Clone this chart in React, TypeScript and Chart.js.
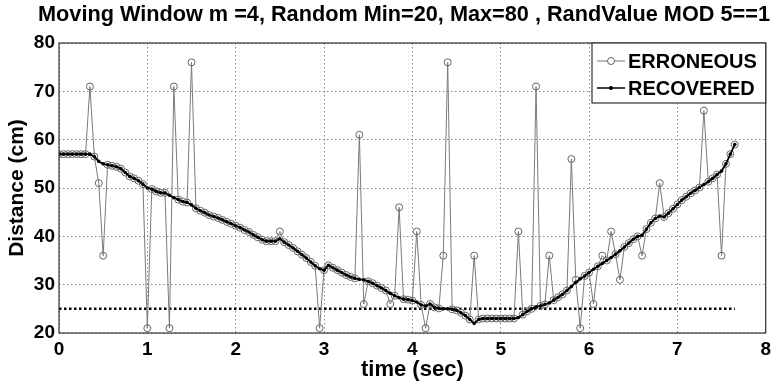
import React, { useEffect, useRef } from "react";
import { Chart, registerables } from "chart.js";

Chart.register(...registerables);

const TITLE = "Moving Window m =4, Random Min=20, Max=80 , RandValue MOD 5==1";
const X_LABEL = "time (sec)";
const Y_LABEL = "Distance (cm)";
const SERIES_NAMES = ["ERRONEOUS", "RECOVERED"];

const X_MIN = 0;
const X_MAX = 8;
const X_STEP = 1;
const Y_MIN = 20;
const Y_MAX = 80;
const Y_STEP = 10;

// sampling period of the sensor (sec)
const SAMPLE_PERIOD = 0.05;

// recovered distance (cm), one value per sample
const RECOVERED_CM = [
  57, 57, 57, 57, 57, 57, 57, 57, 56.5, 55.5,
  55, 54.8, 54.6, 54.4, 54, 53.2, 52.4, 52, 51.5, 50.8,
  50, 49.8, 49.3, 49, 49, 48.5, 48, 47.6, 47.2, 47,
  46.5, 45.8, 45.3, 44.9, 44.4, 44.1, 43.8, 43.4, 43, 42.6,
  42.2, 41.8, 41.3, 40.9, 40.3, 39.8, 39.3, 39, 39, 39,
  39.5, 38.8, 38.2, 37.6, 36.9, 36.2, 35.5, 34.7, 33.9, 33.3,
  33, 34, 33.5, 33, 32.5, 32, 31.6, 31.3, 31.1, 31,
  30.7, 30.3, 29.8, 29.3, 28.8, 28.2, 27.7, 27.3, 27, 26.9,
  26.7, 26.4, 25.8, 25.6, 26, 25.3, 25.1, 25, 25, 24.9,
  24.7, 24.2, 23.6, 22.8, 22, 22.8, 23, 23, 23, 23,
  23, 23, 23, 23, 23.2, 23.8, 24.5, 25, 25.4, 25.6,
  25.9, 26.2, 26.8, 27.4, 28, 28.8, 29.6, 30.5, 31.2, 31.8,
  32.5, 33.2, 33.8, 34.4, 35, 35.6, 36.3, 37, 37.8, 38.6,
  39.4, 40, 40.2, 41.5, 42.8, 43.7, 44.2, 44, 44.8, 45.7,
  46.6, 47.5, 48.2, 48.9, 49.5, 50.1, 50.7, 51.3, 52, 52.8,
  53.5, 55, 57, 59,
];

// erroneous readings injected into the raw signal (time sec, value cm)
const OUTLIER_TIMES = [
  0.35, 0.45, 0.5, 1.0, 1.25, 1.3, 1.5, 2.5, 2.95, 3.4, 3.45, 3.75, 3.85,
  4.05, 4.15, 4.35, 4.4, 4.7, 5.2, 5.4, 5.55, 5.8, 5.85, 5.9, 6.05, 6.15,
  6.25, 6.35, 6.6, 6.8, 7.3, 7.5,
];
const OUTLIER_CM = [
  71, 51, 36, 21, 21, 71, 76, 41, 21, 61, 26, 26, 46,
  41, 21, 36, 76, 36, 41, 71, 36, 56, 31, 21, 26, 36,
  41, 31, 36, 51, 66, 36,
];

const THRESHOLD_CM = 25;
const THRESHOLD_SPAN = [0, 7.65];

const FONT = '"Liberation Sans", Arial, Helvetica, sans-serif';

export default function App() {
  const canvasRef = useRef<HTMLCanvasElement | null>(null);

  useEffect(() => {
    const canvas = canvasRef.current;
    if (!canvas) return;

    const recoveredPts = RECOVERED_CM.map((v, i) => ({ x: i * SAMPLE_PERIOD, y: v }));
    const erroneousVals = RECOVERED_CM.slice();
    OUTLIER_TIMES.forEach((t, k) => {
      const idx = Math.round(t / SAMPLE_PERIOD);
      if (idx >= 0 && idx < erroneousVals.length) erroneousVals[idx] = OUTLIER_CM[k];
    });
    const erroneousPts = erroneousVals.map((v, i) => ({ x: i * SAMPLE_PERIOD, y: v }));
    const thresholdPts = THRESHOLD_SPAN.map((t) => ({ x: t, y: THRESHOLD_CM }));

    const framePlugin = {
      id: "frameAndDecor",
      afterDraw(chart: any) {
        const { ctx, chartArea } = chart;
        const { left, top, right, bottom } = chartArea;
        ctx.save();
        // axes box
        ctx.setLineDash([]);
        ctx.strokeStyle = "#333";
        ctx.lineWidth = 1.2;
        ctx.strokeRect(left, top, right - left, bottom - top);

        // title
        ctx.fillStyle = "#000";
        ctx.font = `bold 21.7px ${FONT}`;
        ctx.textAlign = "left";
        ctx.textBaseline = "alphabetic";
        ctx.fillText(TITLE, 38, 21);

        // legend
        const lx0 = 592;
        const ly0 = top;
        const lw = right - lx0;
        const lh = 60;
        ctx.fillStyle = "#fff";
        ctx.fillRect(lx0, ly0, lw, lh);
        ctx.strokeStyle = "#333";
        ctx.lineWidth = 1.2;
        ctx.strokeRect(lx0, ly0, lw, lh);

        const rows = [ly0 + 18, ly0 + 45];
        // erroneous entry
        ctx.strokeStyle = "#777";
        ctx.lineWidth = 1;
        ctx.beginPath();
        ctx.moveTo(597, rows[0]);
        ctx.lineTo(625, rows[0]);
        ctx.stroke();
        ctx.strokeStyle = "#666";
        ctx.beginPath();
        ctx.arc(611, rows[0], 3.5, 0, Math.PI * 2);
        ctx.fillStyle = "#fff";
        ctx.fill();
        ctx.stroke();
        // recovered entry
        ctx.strokeStyle = "#000";
        ctx.lineWidth = 1.5;
        ctx.beginPath();
        ctx.moveTo(597, rows[1]);
        ctx.lineTo(625, rows[1]);
        ctx.stroke();
        ctx.fillStyle = "#000";
        ctx.beginPath();
        ctx.arc(611, rows[1], 2, 0, Math.PI * 2);
        ctx.fill();

        ctx.fillStyle = "#000";
        ctx.font = `bold 20px ${FONT}`;
        ctx.textBaseline = "middle";
        ctx.fillText(SERIES_NAMES[0], 628, rows[0] + 1);
        ctx.fillText(SERIES_NAMES[1], 628, rows[1] + 1);
        ctx.restore();
      },
    };

    const chart = new Chart(canvas, {
      type: "line",
      data: {
        datasets: [
          {
            label: SERIES_NAMES[1],
            data: recoveredPts,
            borderColor: "#000",
            borderWidth: 1.8,
            pointRadius: 1.8,
            pointBackgroundColor: "#000",
            pointBorderWidth: 0,
            order: 0,
          },
          {
            label: SERIES_NAMES[0],
            data: erroneousPts,
            borderColor: "#7a7a7a",
            borderWidth: 1,
            pointRadius: 3.5,
            pointStyle: "circle",
            pointBorderColor: "#666",
            pointBorderWidth: 1,
            pointBackgroundColor: "rgba(255,255,255,0)",
            order: 1,
          },
          {
            label: "threshold",
            data: thresholdPts,
            borderColor: "#000",
            borderWidth: 2.5,
            borderDash: [2.5, 2.5],
            pointRadius: 0,
            order: 2,
          },
        ],
      },
      options: {
        responsive: false,
        animation: false,
        devicePixelRatio: 1,
        layout: { padding: { left: 0, right: 9, top: 43, bottom: 0 } },
        plugins: {
          legend: { display: false },
          tooltip: { enabled: false },
          title: { display: false },
        },
        scales: {
          x: {
            type: "linear",
            min: X_MIN,
            max: X_MAX,
            afterFit: (scale: any) => {
              scale.height = 52;
            },
            ticks: {
              stepSize: X_STEP,
              color: "#000",
              font: { family: FONT, size: 19, weight: "bold" },
              padding: 5,
              maxRotation: 0,
            },
            grid: { color: "#8a8a8a", lineWidth: 1, drawTicks: false },
            border: { display: false, dash: [1.5, 2.5] },
            title: {
              display: true,
              text: X_LABEL,
              color: "#000",
              font: { family: FONT, size: 22, weight: "bold" },
              padding: { top: 0, bottom: 2 },
            },
          },
          y: {
            type: "linear",
            min: Y_MIN,
            max: Y_MAX,
            afterFit: (scale: any) => {
              scale.width = 59;
            },
            ticks: {
              stepSize: Y_STEP,
              color: "#000",
              font: { family: FONT, size: 19, weight: "bold" },
              padding: 4,
            },
            grid: { color: "#8a8a8a", lineWidth: 1, drawTicks: false },
            border: { display: false, dash: [1.5, 2.5] },
            title: {
              display: true,
              text: Y_LABEL,
              color: "#000",
              font: { family: FONT, size: 21, weight: "bold" },
              padding: { top: 5, bottom: 0 },
            },
          },
        },
      },
      plugins: [framePlugin],
    } as any);

    return () => chart.destroy();
  }, []);

  return (
    <div style={{ position: "fixed", left: 0, top: 0, width: 776, height: 385, background: "#fff" }}>
      <canvas ref={canvasRef} width={776} height={385} style={{ display: "block", width: 776, height: 385 }} />
    </div>
  );
}
